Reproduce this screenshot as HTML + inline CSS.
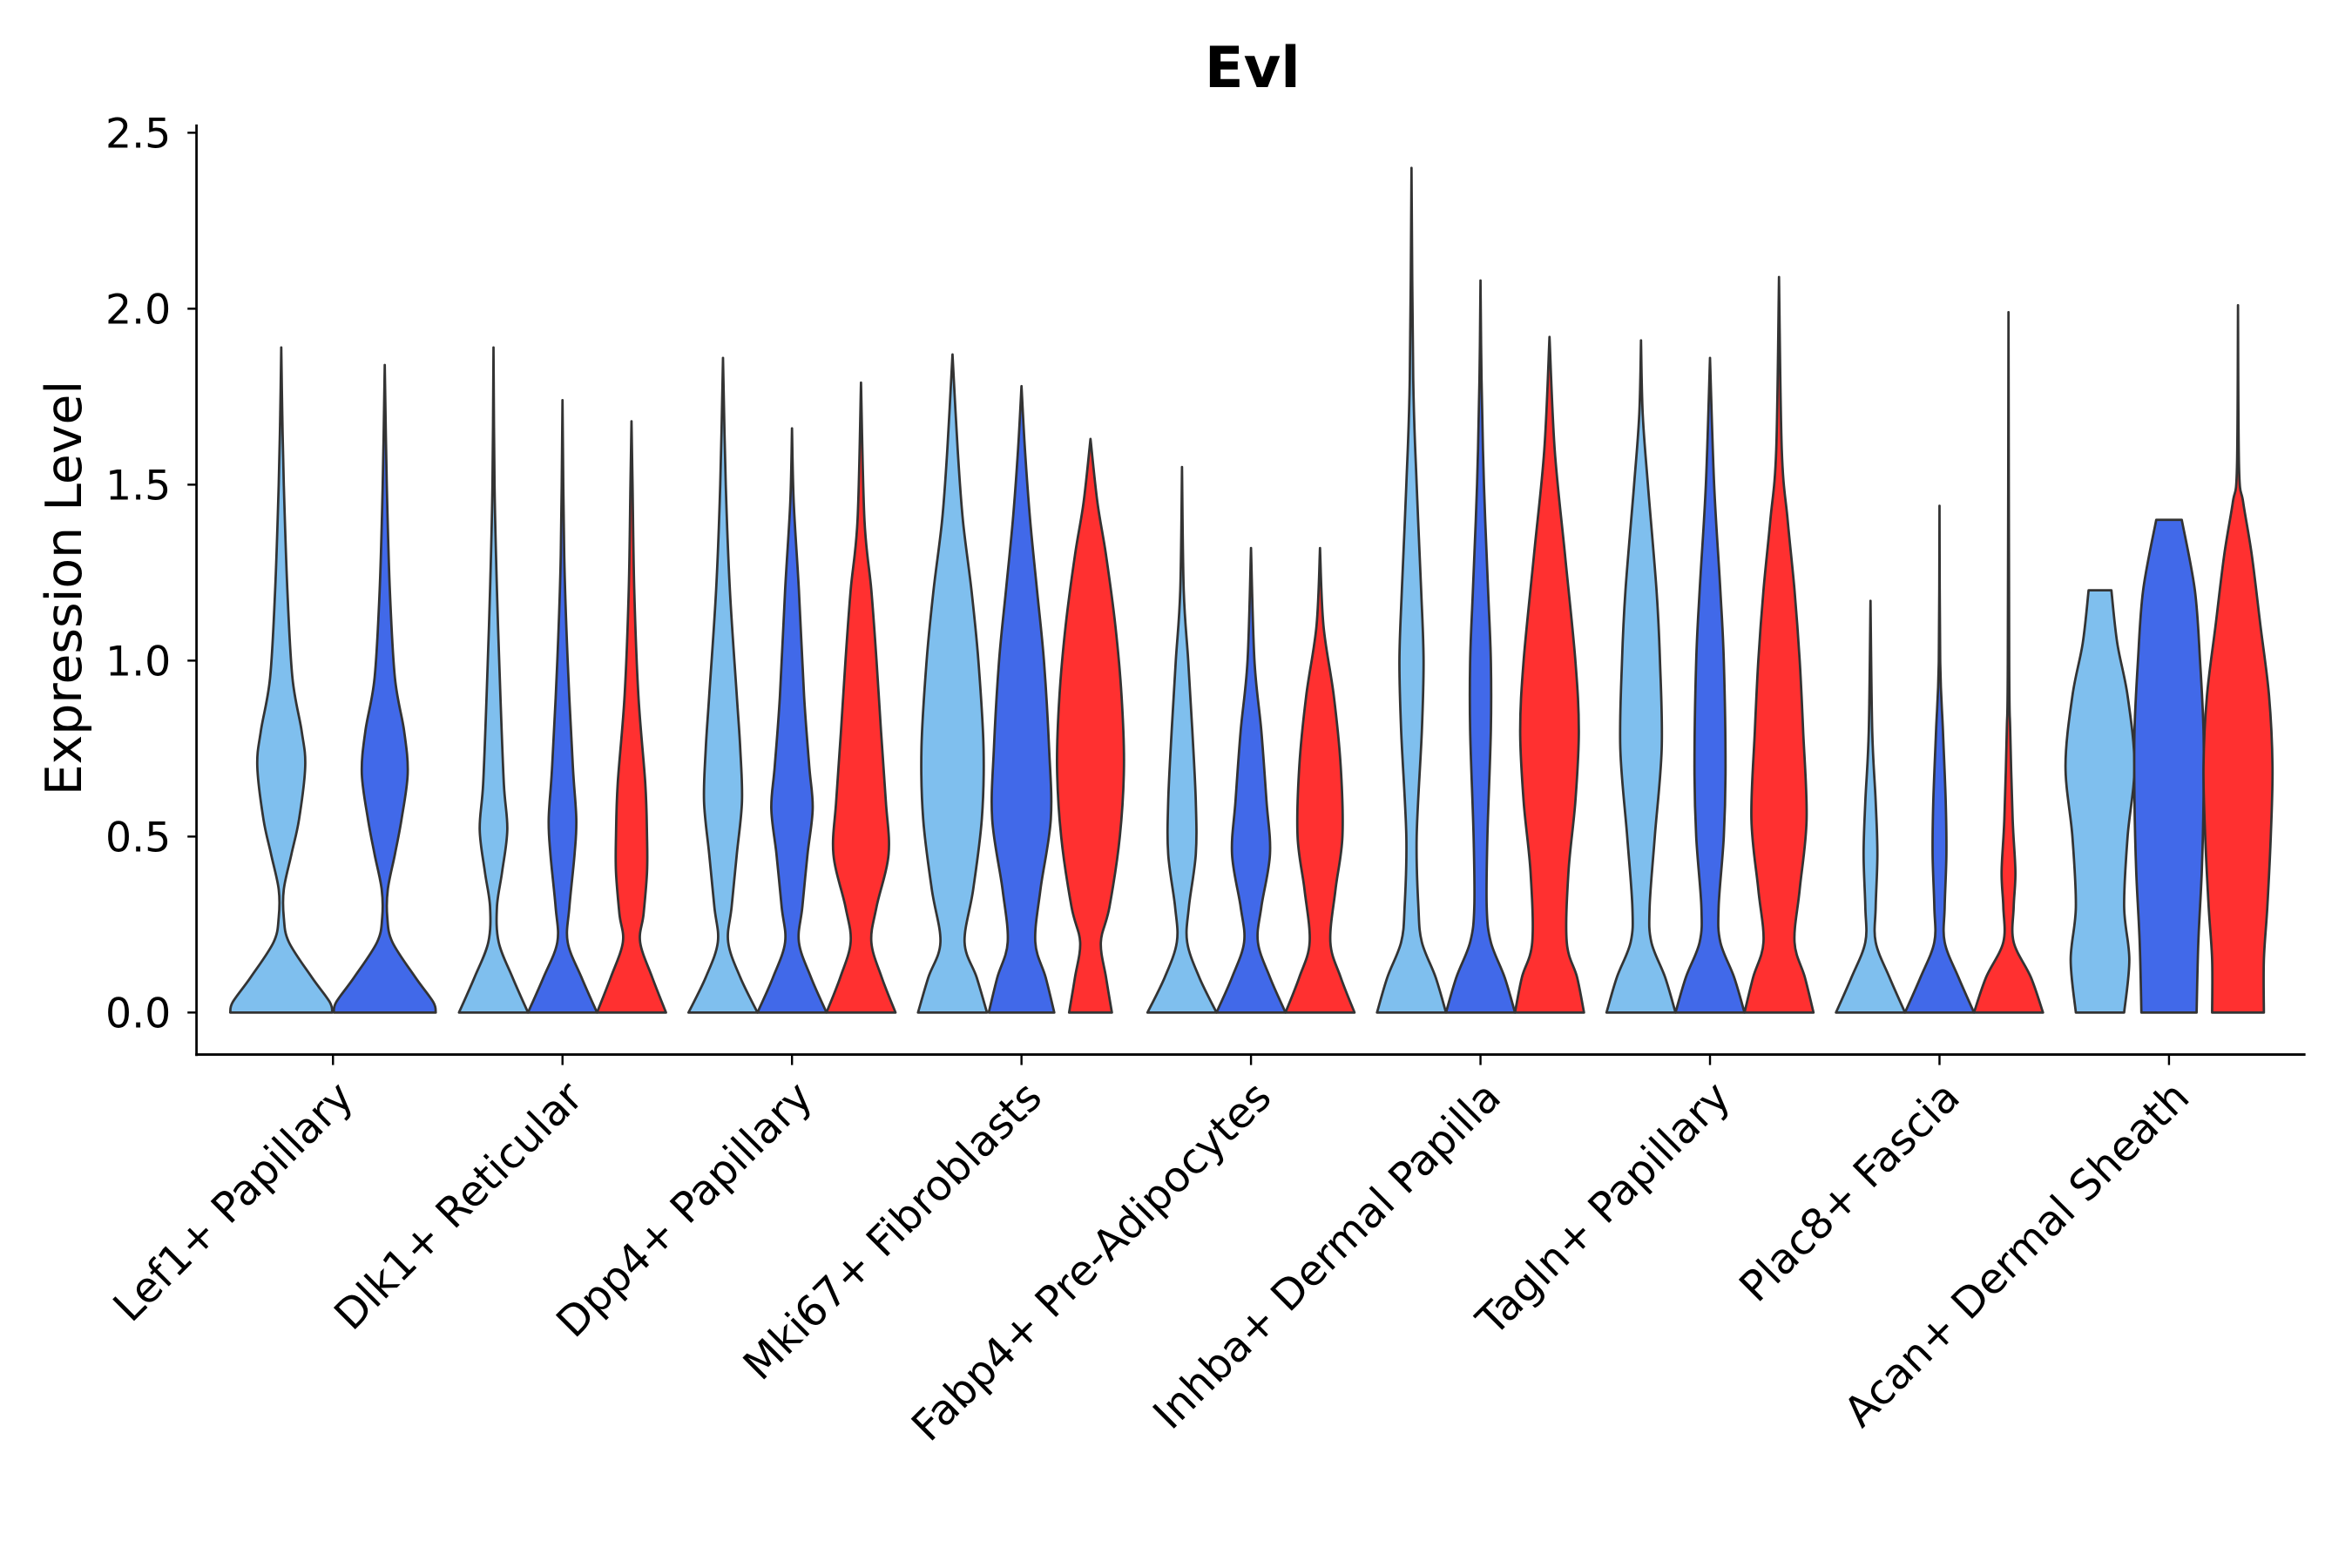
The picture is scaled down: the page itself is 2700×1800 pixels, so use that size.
<!DOCTYPE html>
<html><head><meta charset="utf-8"><style>
html,body{margin:0;padding:0;background:#fff;}
svg{display:block;font-family:"DejaVu Sans","Liberation Sans",sans-serif;}
</style></head><body>
<svg id="chart" width="2700" height="1800" viewBox="0 0 1568 1045.3" preserveAspectRatio="none" xmlns="http://www.w3.org/2000/svg">
<text x="835" y="58" font-size="38" font-weight="bold" text-anchor="middle" fill="#000">Evl</text>
<text transform="translate(54,392) rotate(-90)" font-size="33" text-anchor="middle" fill="#000">Expression Level</text>
<g id="axes"></g>
<g id="violins"></g>
</svg>
<script>
const categories = ["Lef1+ Papillary","Dlk1+ Reticular","Dpp4+ Papillary","Mki67+ Fibroblasts","Fabp4+ Pre-Adipocytes","Inhba+ Dermal Papilla","Tagln+ Papillary","Plac8+ Fascia","Acan+ Dermal Sheath"];
const groupColors = ["#7FBFEE","#4169E9","#FF3030"];
const yTicks = [0, 0.5, 1.0, 1.5, 2.0, 2.5];
const yTickLabels = ["0.0","0.5","1.0","1.5","2.0","2.5"];
// violin profiles: [value, relative half-width] per category, per group (null = absent)
const violinLef1 = [
 [[0,1],[0.03,0.95],[0.1,0.6],[0.2,0.15],[0.27,0.05],[0.35,0.05],[0.45,0.2],[0.55,0.35],[0.7,0.47],[0.8,0.4],[0.95,0.22],[1.2,0.12],[1.5,0.05],[1.7,0.02],[1.89,0]],
 [[0,1],[0.03,0.95],[0.1,0.6],[0.2,0.15],[0.27,0.05],[0.35,0.06],[0.45,0.2],[0.55,0.33],[0.68,0.45],[0.8,0.38],[0.95,0.2],[1.2,0.1],[1.5,0.04],[1.84,0]],
 null];
const violinDlk1 = [
 [[0,1],[0.1,0.55],[0.2,0.15],[0.3,0.1],[0.4,0.25],[0.52,0.4],[0.65,0.3],[0.9,0.2],[1.2,0.1],[1.5,0.03],[1.89,0]],
 [[0,1],[0.1,0.55],[0.2,0.15],[0.3,0.2],[0.45,0.35],[0.55,0.4],[0.7,0.3],[1.0,0.15],[1.3,0.05],[1.74,0]],
 [[0,1],[0.1,0.6],[0.2,0.25],[0.28,0.35],[0.4,0.45],[0.5,0.45],[0.65,0.4],[0.9,0.2],[1.2,0.08],[1.5,0.03],[1.68,0]]];
const violinDpp4 = [
 [[0,1],[0.1,0.5],[0.2,0.15],[0.3,0.25],[0.45,0.4],[0.6,0.55],[0.75,0.5],[0.9,0.4],[1.2,0.2],[1.5,0.08],[1.86,0]],
 [[0,1],[0.1,0.55],[0.2,0.2],[0.3,0.3],[0.45,0.45],[0.58,0.6],[0.7,0.5],[0.9,0.35],[1.2,0.2],[1.45,0.05],[1.66,0]],
 [[0,1],[0.1,0.6],[0.2,0.3],[0.3,0.45],[0.45,0.8],[0.6,0.72],[0.8,0.58],[1.0,0.45],[1.2,0.3],[1.4,0.1],[1.79,0]]];
const violinMki67 = [
 [[0,1],[0.1,0.7],[0.2,0.35],[0.35,0.6],[0.55,0.85],[0.75,0.9],[1.0,0.75],[1.2,0.55],[1.4,0.3],[1.6,0.15],[1.87,0]],
 [[0,0.95],[0.1,0.7],[0.2,0.4],[0.35,0.55],[0.55,0.85],[0.75,0.8],[1.0,0.65],[1.2,0.45],[1.4,0.25],[1.6,0.1],[1.78,0]],
 [[0,0.62],[0.1,0.45],[0.2,0.3],[0.3,0.55],[0.5,0.85],[0.7,0.97],[0.9,0.9],[1.1,0.72],[1.3,0.45],[1.45,0.2],[1.63,0]]];
const violinFabp4 = [
 [[0,1],[0.1,0.5],[0.2,0.15],[0.3,0.2],[0.45,0.4],[0.6,0.4],[0.8,0.3],[1.0,0.18],[1.2,0.05],[1.55,0]],
 [[0,1],[0.1,0.55],[0.2,0.2],[0.3,0.3],[0.45,0.55],[0.6,0.45],[0.8,0.3],[1.0,0.1],[1.32,0]],
 [[0,1],[0.1,0.6],[0.2,0.3],[0.35,0.45],[0.5,0.65],[0.7,0.6],[0.9,0.4],[1.1,0.1],[1.32,0]]];
const violinInhba = [
 [[0,1],[0.1,0.7],[0.2,0.3],[0.3,0.2],[0.5,0.15],[0.8,0.3],[1.0,0.35],[1.2,0.28],[1.5,0.15],[1.8,0.05],[2.4,0]],
 [[0,1],[0.1,0.7],[0.2,0.3],[0.3,0.18],[0.5,0.2],[0.8,0.3],[1.0,0.3],[1.2,0.22],[1.5,0.1],[1.8,0.03],[2.08,0]],
 [[0,1],[0.1,0.8],[0.2,0.5],[0.4,0.55],[0.6,0.75],[0.8,0.85],[1.0,0.75],[1.3,0.45],[1.6,0.15],[1.92,0]]];
const violinTagln = [
 [[0,1],[0.1,0.7],[0.2,0.3],[0.3,0.25],[0.5,0.4],[0.75,0.6],[1.0,0.55],[1.2,0.45],[1.5,0.2],[1.7,0.05],[1.91,0]],
 [[0,1],[0.1,0.7],[0.2,0.3],[0.3,0.25],[0.5,0.4],[0.7,0.45],[1.0,0.4],[1.2,0.3],[1.5,0.12],[1.86,0]],
 [[0,1],[0.1,0.75],[0.2,0.45],[0.35,0.6],[0.55,0.8],[0.8,0.7],[1.0,0.6],[1.2,0.45],[1.4,0.25],[1.6,0.08],[2.09,0]]];
const violinPlac8 = [
 [[0,1],[0.1,0.55],[0.2,0.15],[0.3,0.15],[0.45,0.2],[0.6,0.15],[0.8,0.05],[1.17,0]],
 [[0,1],[0.1,0.55],[0.2,0.15],[0.3,0.15],[0.45,0.2],[0.6,0.18],[0.8,0.1],[1.0,0.02],[1.44,0]],
 [[0,1],[0.1,0.65],[0.2,0.15],[0.3,0.15],[0.4,0.2],[0.55,0.12],[0.8,0.05],[1.0,0.02],[1.99,0]]];
const violinAcan = [
 [[0,0.7],[0.15,0.85],[0.3,0.7],[0.5,0.8],[0.7,1.0],[0.9,0.8],[1.05,0.5],[1.2,0.33]],
 [[0,0.8],[0.2,0.85],[0.4,0.95],[0.6,1.0],[0.8,1.0],[1.0,0.9],[1.2,0.75],[1.4,0.37]],
 [[0,0.75],[0.15,0.75],[0.3,0.85],[0.5,0.95],[0.7,1.0],[0.9,0.9],[1.1,0.65],[1.3,0.4],[1.45,0.15],[1.55,0.03],[2.01,0]]];
const violinData = [violinLef1,violinDlk1,violinDpp4,violinMki67,violinFabp4,violinInhba,violinTagln,violinPlac8,violinAcan];

const NS = "http://www.w3.org/2000/svg";
const plotL = 131, plotR = 1537, axisY = 703;
const y0px = 675, pxPerUnit = 234.6;
const catStart = 222, catStep = 153;
function yScale(v){ return y0px - v*pxPerUnit; }
function xScale(i){ return catStart + i*catStep; }

const axes = document.getElementById('axes');
function mk(tag, attrs, parent){ const e=document.createElementNS(NS,tag); for(const k in attrs) e.setAttribute(k,attrs[k]); parent.appendChild(e); return e; }

const yAxis = mk('line',{x1:plotL,y1:83,x2:plotL,y2:axisY+1,stroke:'#000','stroke-width':1.6},axes);


const xAxis = mk('line',{x1:plotL-0.8,y1:axisY,x2:plotR,y2:axisY,stroke:'#000','stroke-width':1.6},axes);



yTicks.forEach((v,i)=>{
  const y=yScale(v);
  const t=mk('line',{x1:plotL-6,y1:y,x2:plotL,y2:y,stroke:'#000','stroke-width':1.4},axes);
  
  
  const l=mk('text',{x:plotL-17,y:y+10,'font-size':27.5,'text-anchor':'end',fill:'#000'},axes);
  l.textContent=yTickLabels[i];
  
  
});
categories.forEach((c,i)=>{
  const x=xScale(i);
  const t=mk('line',{x1:x,y1:axisY,x2:x,y2:axisY+7,stroke:'#000','stroke-width':1.4},axes);
  
  
  const l=mk('text',{transform:`translate(${x+15},${axisY+30}) rotate(-45)`,'font-size':28,'text-anchor':'end',fill:'#000'},axes);
  l.textContent=c;
  
  
});

function catmull(pts){
  let d='';
  for(let i=0;i<pts.length-1;i++){
    const p0=pts[Math.max(0,i-1)],p1=pts[i],p2=pts[i+1],p3=pts[Math.min(pts.length-1,i+2)];
    const c1=[p1[0]+(p2[0]-p0[0])/6,p1[1]+(p2[1]-p0[1])/6];
    const c2=[p2[0]-(p3[0]-p1[0])/6,p2[1]-(p3[1]-p1[1])/6];
    d+=` C${c1[0].toFixed(2)},${c1[1].toFixed(2)} ${c2[0].toFixed(2)},${c2[1].toFixed(2)} ${p2[0].toFixed(2)},${p2[1].toFixed(2)}`;
  }
  return d;
}
const vg=document.getElementById('violins');
violinData.forEach((groups,ci)=>{
  const present=groups.map((g,gi)=>g?gi:-1).filter(g=>g>=0);
  const n=present.length;
  const slot = n===2 ? 69 : 46;
  const halfW = n===2 ? 34 : 23;
  present.forEach((gi,k)=>{
    const prof=groups[gi];
    const cx=xScale(ci)+(k-(n-1)/2)*slot;
    const right=prof.map(p=>[cx+p[1]*halfW,yScale(p[0])]);
    const left=prof.slice().reverse().map(p=>[cx-p[1]*halfW,yScale(p[0])]);
    let d=`M${cx.toFixed(2)},${right[0][1]} L${right[0][0].toFixed(2)},${right[0][1]}`;
    d+=catmull(right);
    d+=` L${left[0][0].toFixed(2)},${left[0][1].toFixed(2)}`;
    d+=catmull(left)+' Z';
    const p=mk('path',{d:d,fill:groupColors[gi],stroke:'#333','stroke-width':1.6,'stroke-linejoin':'round'},vg);
    
    
  });
});
</script>
</body></html>
